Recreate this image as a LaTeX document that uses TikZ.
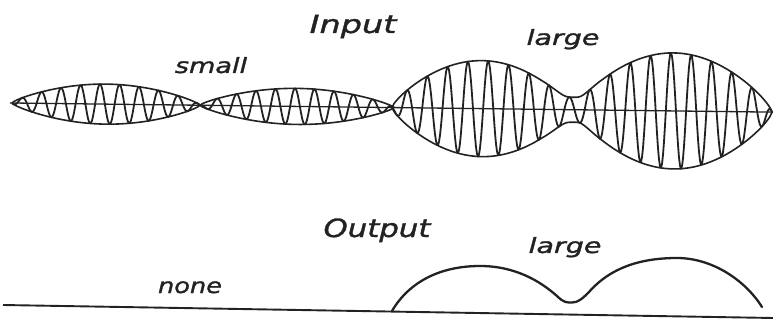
\documentclass[tikz,border=0pt]{standalone}
\usepackage{fontspec}
\setmainfont{DejaVu Sans}
\newfontfamily\handfont{DejaVu Sans}[FakeBold=1.2]
\definecolor{ink}{HTML}{222222}
\newcommand\hwide[2]{\scalebox{#1}[1]{#2}}
\begin{document}
\begin{tikzpicture}[x=1pt,y=-1pt,
  declare function={
    axy(\x)=103+0.012*(\x-12);
    bline(\x)=305+0.01688*(\x-3);
    pw(\s)=sqrt(\s)*sqrt(sqrt(\s));
    q4(\v)=\v*\v*\v*\v;
    lobe(\x,\a,\w,\h)=\h*pw(max(0.0001,sin(min(max(\x-\a,0),\w)/\w*180)));
    neck(\x,\a,\b,\h)=\h*max(0,min(1,(\x-\a)/10,(\b-\x)/10));
    smx(\p,\q,\r)=max(\p,\q,\r,0.001)*sqrt(sqrt(q4(\p/max(\p,\q,\r,0.001))+q4(\q/max(\p,\q,\r,0.001))+q4(\r/max(\p,\q,\r,0.001))));
    envs(\x)=lobe(\x,12,188,20)+lobe(\x,200,194,18);
    envl(\x)=smx(lobe(\x,392,180,48),lobe(\x,575,197,58),neck(\x,535,610,12.5));
  },
  envline/.style={draw=ink, line width=1.6pt, line join=round},
  carrier/.style={draw=ink, line width=1.8pt, line join=round},
  axisline/.style={draw=ink, line width=1.3pt},
  outline/.style={draw=ink, line width=2.3pt, line cap=round, line join=round},
  baseln/.style={draw=ink, line width=1.9pt},
  lbl/.style={anchor=base, inner sep=0pt, text=ink}
]
\useasboundingbox[fill=white] (0,0) rectangle (773,320);

% ---- input ----
\coordinate (axL) at (10,{axy(10)});
\coordinate (axR) at (774,{axy(774)});
\draw[axisline] (axL) -- (axR);

\draw[envline] plot[domain=12:394, samples=192] (\x,{axy(\x)-envs(\x)});
\draw[envline] plot[domain=12:394, samples=192] (\x,{axy(\x)+envs(\x)});
\draw[carrier] plot[domain=12:394, samples=383] (\x,{axy(\x)-envs(\x)*cos((\x-100)/19.5*360)});

\draw[envline] plot[domain=392:772, samples=191] (\x,{axy(\x)-envl(\x)});
\draw[envline] plot[domain=392:772, samples=191] (\x,{axy(\x)+envl(\x)});
\draw[carrier] plot[domain=392:772, samples=381] (\x,{axy(\x)-envl(\x)*cos((\x-407)/20.3*360)});

% ---- output ----
\coordinate (bL) at (3,{bline(3)});
\coordinate (bR) at (773,{bline(773)});
\draw[baseln] (bL) -- (bR);
\coordinate (o0) at (392,311);
\coordinate (o1) at (480,266);
\coordinate (o2) at (557,296);
\coordinate (o3) at (572,302.5);
\coordinate (o4) at (589,292);
\coordinate (o5) at (677,258);
\coordinate (o6) at (762,307);
\draw[outline] (o0) .. controls (409,282) and (440,266) .. (o1)
  .. controls (515,266) and (540,281) .. (o2)
  .. controls (564,303) and (567,302.5) .. (o3)
  .. controls (578,302.5) and (582,299) .. (o4)
  .. controls (610,268) and (640,258) .. (o5)
  .. controls (712,258) and (745,280) .. (o6);

% ---- labels ----
\node[lbl, font=\handfont\itshape\fontsize{25}{25}\selectfont] (lin) at (353,33) {\hwide{1.34}{Input}};
\node[lbl, font=\handfont\itshape\fontsize{21}{21}\selectfont] (lsm) at (211,73) {\hwide{1.29}{small}};
\node[lbl, font=\handfont\itshape\fontsize{21}{21}\selectfont] (lla) at (563,45) {\hwide{1.36}{large}};
\node[lbl, font=\handfont\itshape\fontsize{25}{25}\selectfont] (lout) at (377,237) {\hwide{1.23}{Output}};
\node[lbl, font=\handfont\itshape\fontsize{21}{21}\selectfont] (llb) at (565,253) {\hwide{1.36}{large}};
\node[lbl, font=\handfont\itshape\fontsize{21}{21}\selectfont] (lno) at (190,293) {\hwide{1.22}{none}};
\end{tikzpicture}
\end{document}
